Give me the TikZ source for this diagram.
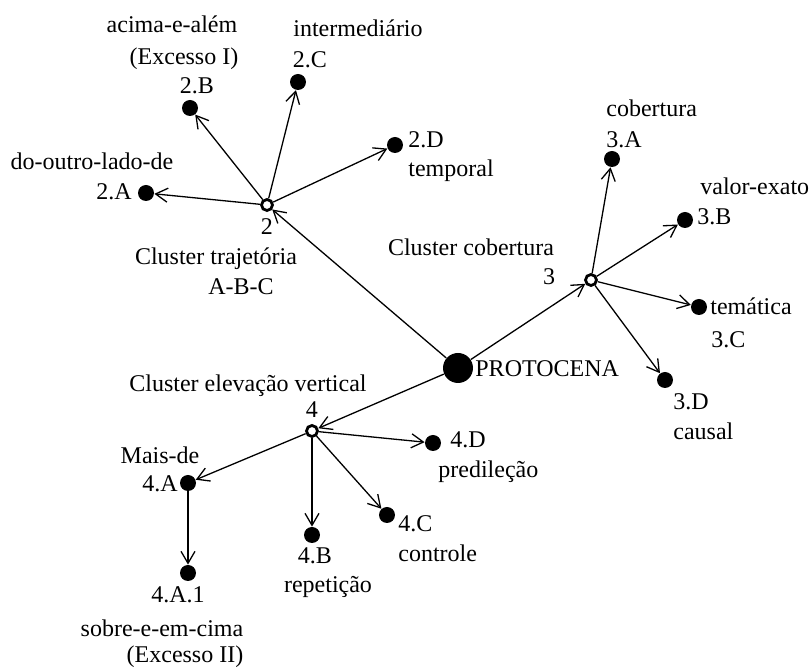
\documentclass[tikz,border=0pt]{standalone}
\usepackage{fontspec}
\setmainfont{Liberation Serif}
\usetikzlibrary{arrows.meta}
\begin{document}
\begin{tikzpicture}[x=0.5pt,y=-0.5pt,
 dot/.style={circle,fill=black,inner sep=0,minimum size=8pt},
 bigdot/.style={circle,fill=black,inner sep=0,minimum size=15pt},
 hub/.style={circle,draw=black,fill=white,line width=1.4pt,inner sep=0,minimum size=5.5pt},
 lbl/.style={inner sep=0,anchor=base,font=\fontsize{12}{14}\selectfont},
 lblw/.style={lbl,anchor=base west},
 conn/.style={-{Straight Barb[length=6pt,width=7pt]},line width=0.65pt}]
\useasboundingbox (0,0) rectangle (811,668);
% nodes
\node[bigdot] (P) at (458,368) {};
\node[hub] (c2) at (267,205) {};
\node[hub] (c3) at (591,280) {};
\node[hub] (c4) at (312,431) {};
\node[dot] (a2A) at (146,193) {};
\node[dot] (a2B) at (190,108) {};
\node[dot] (a2C) at (298,82) {};
\node[dot] (a2D) at (395,145) {};
\node[dot] (a3A) at (612,159) {};
\node[dot] (a3B) at (685,220) {};
\node[dot] (a3C) at (699,307) {};
\node[dot] (a3D) at (665,380) {};
\node[dot] (a4A) at (188,483) {};
\node[dot] (a4A1) at (188,573) {};
\node[dot] (a4B) at (312,535) {};
\node[dot] (a4C) at (387,515) {};
\node[dot] (a4D) at (433,443) {};
% connectors
\draw[conn] (P) -- (c2);
\draw[conn] (P) -- (c3);
\draw[conn] (P) -- (c4);
\draw[conn] (c2) -- (a2A);
\draw[conn] (c2) -- (a2B);
\draw[conn] (c2) -- (a2C);
\draw[conn] (c2) -- (a2D);
\draw[conn] (c3) -- (a3A);
\draw[conn] (c3) -- (a3B);
\draw[conn] (c3) -- (a3C);
\draw[conn] (c3) -- (a3D);
\draw[conn] (c4) -- (a4A);
\draw[conn] (c4) -- (a4B);
\draw[conn] (c4) -- (a4C);
\draw[conn] (c4) -- (a4D);
\draw[conn] (a4A) -- (a4A1);
% labels
\node[lbl] (t1) at (172,33) {acima-e-além};
\node[lbl] (t2) at (184,65) {(Excesso I)};
\node[lbl] (t3) at (197,94) {2.B};
\node[lbl] (t4) at (358,37) {intermediário};
\node[lbl] (t5) at (310,68) {2.C};
\node[lbl] (t6) at (92,170) {do-outro-lado-de};
\node[lbl] (t7) at (114,200) {2.A};
\node[lblw] (t8) at (408,148) {2.D};
\node[lblw] (t9) at (408,177) {temporal};
\node[lbl] (t10) at (267,235) {2};
\node[lbl] (t11) at (216,265) {Cluster trajetória};
\node[lbl] (t12) at (241,295) {A-B-C};
\node[lblw] (t13) at (606,117) {cobertura};
\node[lblw] (t14) at (606,148) {3.A};
\node[lblw] (t15) at (700,195) {valor-exato};
\node[lblw] (t16) at (697,225) {3.B};
\node[lbl] (t17) at (471,256) {Cluster cobertura};
\node[lbl] (t18) at (549,285) {3};
\node[lblw] (t19) at (475,377) {PROTOCENA};
\node[lblw] (t20) at (710,315) {temática};
\node[lblw] (t21) at (711,348) {3.C};
\node[lblw] (t22) at (673,410) {3.D};
\node[lblw] (t23) at (673,440) {causal};
\node[lbl] (t24) at (248,392) {Cluster elevação vertical};
\node[lbl] (t25) at (312,418) {4};
\node[lbl] (t26) at (160,464) {Mais-de};
\node[lbl] (t27) at (160,492) {4.A};
\node[lbl] (t28) at (178,603) {4.A.1};
\node[lbl] (t29) at (162,637) {sobre-e-em-cima};
\node[lbl] (t30) at (185,663) {(Excesso II)};
\node[lblw] (t31) at (450,448) {4.D};
\node[lblw] (t32) at (438,478) {predileção};
\node[lblw] (t33) at (398,532) {4.C};
\node[lblw] (t34) at (398,562) {controle};
\node[lbl] (t35) at (315,564) {4.B};
\node[lbl] (t36) at (328,593) {repetição};
\end{tikzpicture}
\end{document}
